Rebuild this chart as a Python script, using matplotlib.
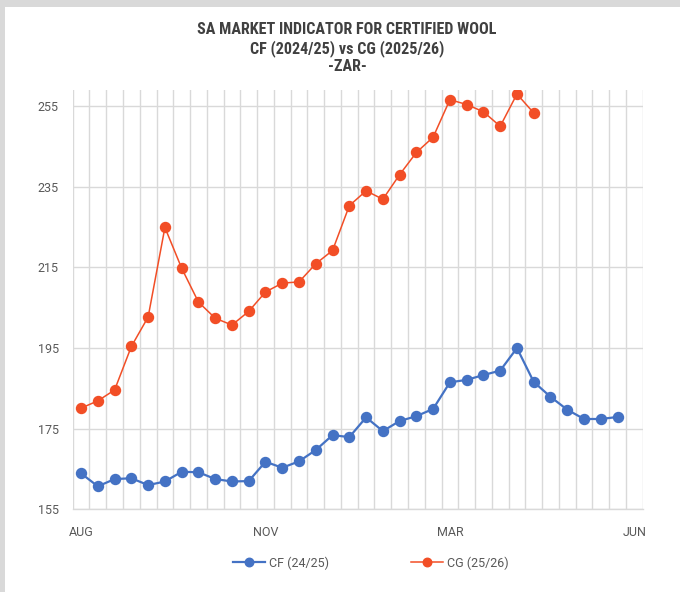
import matplotlib
matplotlib.use("Agg")
import matplotlib.pyplot as plt
from matplotlib.patches import Rectangle

# ---- data ----
cf_values = [163.9, 160.7, 162.5, 162.7, 161.0, 161.9, 164.3, 164.2, 162.5, 161.9,
             162.0, 166.8, 165.3, 166.9, 169.7, 173.4, 172.9, 177.8, 174.4, 176.9,
             178.1, 179.9, 186.5, 187.1, 188.3, 189.4, 195.0, 186.6, 182.9, 179.7,
             177.4, 177.4, 177.9]
cg_values = [180.1, 181.9, 184.6, 195.4, 202.7, 224.9, 214.8, 206.4, 202.4, 200.7,
             204.1, 208.9, 211.1, 211.4, 215.9, 219.2, 230.3, 234.0, 231.9, 238.0,
             243.5, 247.3, 256.6, 255.4, 253.6, 250.0, 258.0, 253.3]
n_categories = 34
month_labels = ["AUG", "NOV", "MAR", "JUN"]
month_positions = [0, 11, 22, 33]
y_ticks = [155, 175, 195, 215, 235, 255]
series_names = ["CF (24/25)", "CG (25/26)"]

plt.rcParams['font.family'] = ['Roboto', 'DejaVu Sans']

fig = plt.figure(figsize=(6.8, 5.92), dpi=100)
fig.patch.set_facecolor('#d9d9d9')
bg = fig.add_axes([0, 0, 1, 1], zorder=-10)
bg.axis('off')
bg.add_patch(Rectangle((5/680, 0), 1 - 5/680, 1 - 7/592, transform=bg.transAxes,
                       facecolor='white', edgecolor='none'))

ax = fig.add_axes([72.7/680, (592-509.3)/592, 570/680, (509.3-90)/592], zorder=1)
ax.set_facecolor('white')

blue = '#4472C4'
red = '#F24E26'

ax.plot(range(len(cf_values)), cf_values, color=blue, lw=1.6, marker='o', ms=7.2,
        label=series_names[0], zorder=3)
ax.plot(range(len(cg_values)), cg_values, color=red, lw=1.1, marker='o', ms=7.2,
        label=series_names[1], zorder=3)

ax.set_xlim(-0.5, n_categories - 0.5)
ax.set_ylim(155, 259)

ax.set_xticks([i - 0.5 for i in range(n_categories + 1)], minor=True)
ax.set_xticks(month_positions)
ax.set_xticklabels(month_labels)
ax.set_yticks(y_ticks)
ax.grid(True, which='minor', axis='x', color='#d9d9d9', lw=1.0)
ax.grid(True, which='major', axis='y', color='#d9d9d9', lw=1.0)
ax.set_axisbelow(True)
ax.tick_params(axis='both', which='both', length=0, colors='#595959', labelsize=9)
ax.tick_params(axis='x', pad=12)
ax.tick_params(axis='y', pad=10)
for s in ['top', 'right', 'left']:
    ax.spines[s].set_visible(False)
ax.spines['bottom'].set_color('#d9d9d9')
ax.spines['bottom'].set_linewidth(1.0)

title = "SA MARKET INDICATOR FOR CERTIFIED WOOL\nCF (2024/25) vs CG (2025/26)\n-ZAR-"
fig.text(347/680, 1 - 22/592, title, ha='center', va='top', fontsize=11.6,
         fontweight='bold', color='#404040', linespacing=1.2,
         family=['Roboto Condensed', 'Liberation Sans Narrow', 'Roboto'],
         fontstretch='condensed')

fig.legend(loc='center', bbox_to_anchor=(371/680, 1 - 563/592), ncol=2, frameon=False,
           fontsize=9, handlelength=2.5, columnspacing=6.6, labelcolor='#595959',
           handletextpad=0.35, markerscale=0.85)

fig.savefig('out.png', dpi=100)
